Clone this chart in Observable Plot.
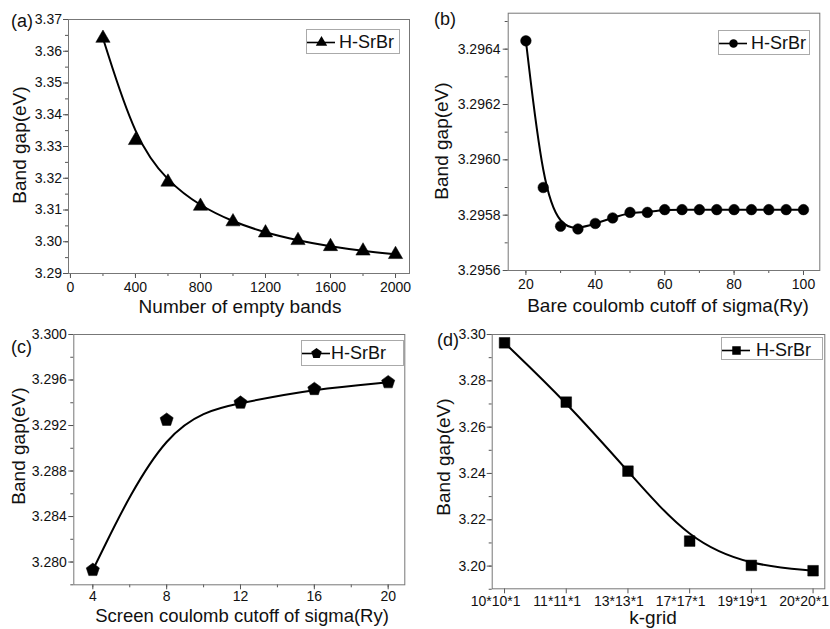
<!DOCTYPE html>
<html>
<head>
<meta charset="utf-8">
<script src="https://cdn.jsdelivr.net/npm/d3@7"></script>
<script src="https://cdn.jsdelivr.net/npm/@observablehq/plot@0.6"></script>
<style>
  html, body { margin: 0; padding: 0; background: #fff; }
  #root { position: relative; width: 830px; height: 629px; font-family: "Liberation Sans", Arial, sans-serif; overflow: hidden; }
  .plab { position: absolute; font-size: 18px; color: #111; line-height: 1; }
  .leg { position: absolute; border: 1px solid #aaa; background: #fff; box-sizing: border-box; }
  .leg span { position: absolute; font-size: 18px; line-height: 1; color: #111; }
</style>
</head>
<body>
<div id="root"></div>
<script>
// ---- data ----
const seriesName = "H-SrBr";

const bandsX = [200, 400, 600, 800, 1000, 1200, 1400, 1600, 1800, 2000];
const bandsY = [3.3641, 3.3319, 3.3188, 3.3112, 3.3063, 3.3028, 3.3004, 3.2985, 3.2971, 3.2960];

const bareX = [20, 25, 30, 35, 40, 45, 50, 55, 60, 65, 70, 75, 80, 85, 90, 95, 100];
const bareY = [3.29643, 3.29590, 3.29576, 3.29575, 3.29577, 3.29579, 3.29581, 3.29581,
               3.29582, 3.29582, 3.29582, 3.29582, 3.29582, 3.29582, 3.29582, 3.29582, 3.29582];

const screenX = [4, 8, 12, 16, 20];
const screenY = [3.2793, 3.2925, 3.2940, 3.2952, 3.2958];

const kLabels = ["10*10*1", "11*11*1", "13*13*1", "17*17*1", "19*19*1", "20*20*1"];
const kY = [3.2964, 3.2708, 3.2410, 3.2108, 3.2003, 3.1980];

const titlesX = ["Number of empty bands", "Bare coulomb cutoff of sigma(Ry)", "Screen coulomb cutoff of sigma(Ry)", "k-grid"];
const titleY = "Band gap(eV)";
const panelLabels = ["(a)", "(b)", "(c)", "(d)"];

// ---- helpers ----
const pentagon = {
  draw(ctx, size) {
    const R = Math.sqrt(size / (2.5 * Math.sin(2 * Math.PI / 5)));
    for (let k = 0; k < 5; k++) {
      const a = -Math.PI / 2 + k * 2 * Math.PI / 5;
      const x = R * Math.cos(a), y = R * Math.sin(a);
      if (k === 0) ctx.moveTo(x, y); else ctx.lineTo(x, y);
    }
    ctx.closePath();
  }
};

function range(a, b, s) { const out = []; for (let v = a; v <= b + s * 1e-6; v += s) out.push(+v.toFixed(8)); return out; }

const root = document.getElementById("root");

function place(el, left, top) {
  el.style.position = "absolute";
  el.style.left = left + "px";
  el.style.top = top + "px";
  el.style.overflow = "visible";
  el.style.display = "block";
}

// overlay for axis titles
const overlay = d3.create("svg")
  .attr("width", 830).attr("height", 629)
  .style("position", "absolute").style("left", "0px").style("top", "0px")
  .style("overflow", "visible").style("pointer-events", "none")
  .style("font-family", "Liberation Sans, Arial, sans-serif");

function panel(cfg) {
  const data = cfg.xs.map((x, i) => ({x, y: cfg.ys[i]}));
  const svg = Plot.plot({
    width: cfg.w, height: cfg.h,
    marginLeft: cfg.ml, marginRight: cfg.mr, marginTop: cfg.mt, marginBottom: cfg.mb,
    style: {fontFamily: "Liberation Sans, Arial, sans-serif", fontSize: cfg.fs || "14px", color: "#111", background: "transparent"},
    x: {domain: cfg.xd},
    y: {domain: cfg.yd},
    marks: [
      Plot.axisX({ticks: cfg.xMinor, tickSize: 3, text: null, label: null, stroke: "#555"}),
      Plot.axisY({ticks: cfg.yMinor, tickSize: 3, text: null, label: null, stroke: "#555"}),
      Plot.axisX({ticks: cfg.xTicks, tickSize: 5, text: null, label: null, stroke: "#555"}),
      Plot.axisX({ticks: cfg.xTicks, tickFormat: cfg.xFmt, tickSize: 0, tickPadding: 5 + cfg.xPad, label: null, fill: "#111", dx: cfg.xLabDx || 0}),
      Plot.axisY({ticks: cfg.yTicks, tickFormat: cfg.yFmt, tickSize: 5, tickPadding: cfg.yPad, label: null, stroke: "#555", fill: "#111"}),
      Plot.frame({stroke: "#777", strokeWidth: 1}),
      Plot.line(data, {x: "x", y: "y", curve: "basis", stroke: "#000", strokeWidth: 2}),
      Plot.dot(data, {x: "x", y: "y", symbol: cfg.symbol, r: cfg.r, fill: "#000", stroke: "#000", strokeWidth: 0.5})
    ]
  });
  place(svg, cfg.left, cfg.top);
  root.appendChild(svg);

  // axis titles
  overlay.append("text")
    .attr("x", cfg.xt[0]).attr("y", cfg.xt[1])
    .attr("text-anchor", "middle").attr("font-size", cfg.xtfs || 19).attr("fill", "#111")
    .text(cfg.xTitle);
  overlay.append("text")
    .attr("transform", `translate(${cfg.yt[0]},${cfg.yt[1]}) rotate(-90)`)
    .attr("text-anchor", "middle").attr("font-size", 19).attr("fill", "#111")
    .text(titleY);

  const lab = document.createElement("div");
  lab.className = "plab";
  lab.textContent = cfg.label;
  lab.style.left = cfg.labX + "px";
  lab.style.top = cfg.labY + "px";
  root.appendChild(lab);

  const leg = document.createElement("div");
  leg.className = "leg";
  leg.style.left = cfg.leg[0] + "px";
  leg.style.top = cfg.leg[1] + "px";
  leg.style.width = cfg.leg[2] + "px";
  leg.style.height = cfg.leg[3] + "px";
  const sym = Plot.plot({
    width: 28, height: 20, margin: 0,
    x: {domain: [0, 2], axis: null}, y: {domain: [0, 1], axis: null},
    style: {background: "transparent"},
    marks: [
      Plot.ruleY([0.5], {x1: 0, x2: 2, stroke: "#000", strokeWidth: 1.6}),
      Plot.dot([1], {x: d => d, y: 0.5, symbol: cfg.symbol, r: cfg.r * 0.8, fill: "#000"})
    ]
  });
  place(sym, 0, 2);
  leg.appendChild(sym);
  const sp = document.createElement("span");
  sp.textContent = seriesName;
  sp.style.left = cfg.legTextX + "px";
  sp.style.top = "3px";
  leg.appendChild(sp);
  root.appendChild(leg);
}

panel({
  left: 0, top: 0, w: 415, h: 315, ml: 68, mr: 6, mt: 19, mb: 42,
  xs: bandsX, ys: bandsY, xd: [-12, 2086], yd: [3.29, 3.37],
  xTicks: range(0, 2000, 400), xMinor: range(0, 2000, 200), xFmt: d3.format("d"), xPad: 4,
  yTicks: range(3.29, 3.37, 0.01), yMinor: range(3.29, 3.37, 0.005), yFmt: d3.format(".2f"), yPad: 1.5,
  symbol: "triangle", r: 5.3, xTitle: titlesX[0], xt: [240, 313], yt: [26, 145],
  label: panelLabels[0], labX: 11, labY: 12,
  leg: [306, 29, 94, 25], legTextX: 32
});

panel({
  left: 415, top: 0, w: 415, h: 315, ml: 92.7, mr: 10.7, mt: 12.7, mb: 45,
  xs: bareX, ys: bareY, xd: [14.9, 104.7], yd: [3.2956, 3.29653],
  xTicks: range(20, 100, 20), xMinor: range(20, 100, 10), xFmt: d3.format("d"), xPad: 4,
  yTicks: range(3.2956, 3.2964, 0.0002), yMinor: range(3.2956, 3.2965, 0.0001), yFmt: d3.format(".4f"), yPad: 2.7,
  symbol: "circle", r: 5.3, xTitle: titlesX[1], xt: [668, 312], yt: [448, 141],
  label: panelLabels[1], labX: 434, labY: 10,
  leg: [718, 30, 92, 25], legTextX: 32
});

panel({
  left: 0, top: 315, w: 415, h: 314, ml: 73.3, mr: 10.7, mt: 19, mb: 44.7,
  xs: screenX, ys: screenY, xd: [2.97, 20.9], yd: [3.278, 3.300],
  xTicks: range(4, 20, 4), xMinor: range(4, 20, 2), xFmt: d3.format("d"), xPad: 1.5,
  yTicks: range(3.280, 3.300, 0.004), yMinor: range(3.278, 3.300, 0.002), yFmt: d3.format(".3f"), yPad: 2,
  symbol: pentagon, r: 6, xTitle: titlesX[2], xt: [242, 622], xtfs: 18.5, yt: [25, 446],
  label: panelLabels[2], labX: 11, labY: 338,
  leg: [301, 340, 103, 26], legTextX: 29
});

panel({
  left: 415, top: 315, w: 415, h: 314, ml: 76.7, mr: 5.7, mt: 19, mb: 40.7,
  xs: kLabels.map((_, i) => i), ys: kY, xd: [-0.2, 5.19], yd: [3.1902, 3.30],
  xTicks: range(0, 5, 1), xMinor: [], xFmt: i => kLabels[i], xPad: 2.6, xLabDx: -9,
  yTicks: range(3.20, 3.30, 0.02), yMinor: range(3.19, 3.30, 0.01), yFmt: d3.format(".2f"), yPad: 1.5,
  symbol: "square", r: 6, xTitle: titlesX[3], xt: [653, 624], yt: [450, 457],
  label: panelLabels[3], labX: 437, labY: 331,
  leg: [721, 337, 102, 23], legTextX: 34
});

root.appendChild(overlay.node());
</script>
</body>
</html>
